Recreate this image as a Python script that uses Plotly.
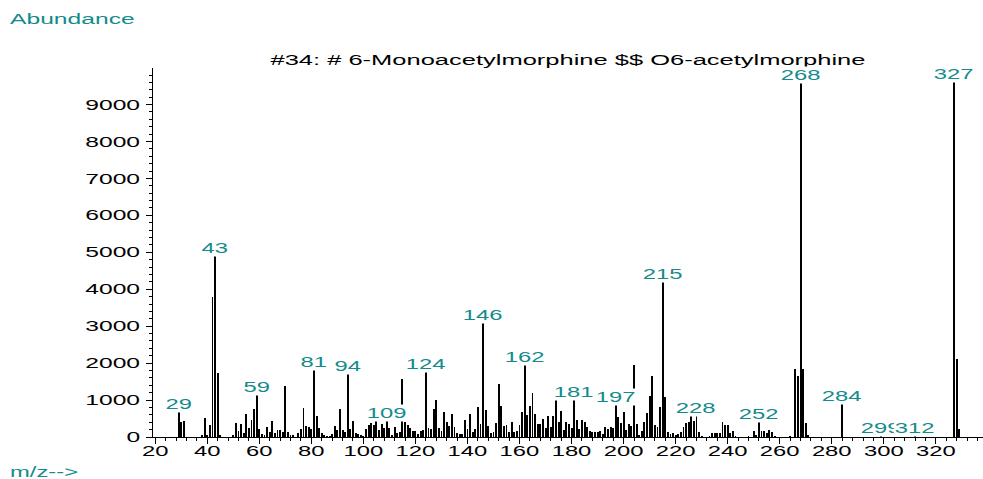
import plotly.graph_objects as go

# Mass spectrum of 6-monoacetylmorphine (EI), m/z vs abundance
mz = [29, 30, 31, 38, 39, 40, 41, 42, 43, 44, 45,
      50, 51, 52, 53, 54, 55, 56, 57, 58, 59, 60, 61, 62, 63, 64, 65, 66, 67, 68, 69,
      70, 71, 72, 73, 75, 76, 77, 78, 79, 80, 81, 82, 83, 84, 85, 86, 87, 88, 89,
      90, 91, 92, 93, 94, 95, 96, 97, 98, 99, 100, 101, 102, 103, 104, 105, 106, 107, 108, 109,
      110, 111, 112, 113, 114, 115, 116, 117, 118, 119, 120, 121, 122, 123, 124, 125, 126, 127, 128, 129,
      130, 131, 132, 133, 134, 135, 136, 137, 138, 139, 140, 141, 142, 143, 144, 145, 146, 147, 148, 149,
      150, 151, 152, 153, 154, 155, 156, 157, 158, 159, 160, 161, 162, 163, 164, 165, 166, 167, 168, 169,
      170, 171, 172, 173, 174, 175, 176, 177, 178, 179, 180, 181, 182, 183, 184, 185, 186, 187, 188, 189,
      190, 191, 192, 193, 194, 195, 196, 197, 198, 199, 200, 201, 202, 203, 204, 205, 206, 207, 208, 209,
      210, 211, 212, 213, 214, 215, 216, 217, 218, 219, 220, 221, 222, 223, 224, 225, 226, 227, 228, 229,
      230, 233, 234, 235, 236, 237, 238, 239, 240, 241, 242, 243, 248, 250, 251, 252, 253, 254, 255, 256,
      257, 258, 264, 266, 267, 268, 269, 270, 271, 284, 299, 312, 327, 328, 329]
abundance = [690, 400, 430, 30, 520, 55, 330, 3780, 4910, 1740, 55,
             55, 380, 150, 350, 120, 610, 250, 450, 750, 1140, 210, 70, 60, 270, 130, 440, 110, 200, 190, 140,
             1380, 140, 50, 30, 100, 230, 790, 290, 260, 220, 1820, 570, 240, 100, 60, 20, 20, 80, 300,
             185, 760, 180, 135, 1710, 210, 430, 110, 70, 50, 20, 210, 330, 380, 320, 430, 190, 350, 240, 430,
             240, 60, 260, 120, 140, 1570, 410, 330, 250, 170, 170, 90, 170, 190, 1760, 240, 210, 760, 1010, 240,
             170, 680, 400, 290, 610, 260, 110, 70, 70, 460, 210, 620, 140, 230, 800, 350, 3100, 730, 295, 100,
             130, 385, 1430, 840, 300, 325, 130, 400, 130, 165, 330, 687, 1950, 600, 845, 1185, 615, 355, 355, 500,
             240, 570, 280, 570, 1000, 400, 705, 185, 400, 355, 240, 1000, 460, 230, 460, 410, 262, 170, 122, 122,
             126, 160, 72, 265, 208, 265, 235, 867, 545, 380, 687, 190, 355, 298, 1950, 340, 60, 170, 415, 660,
             1110, 1653, 335, 262, 804, 4200, 1070, 126, 76, 99, 60, 72, 140, 262, 385, 415, 570, 425, 570, 136,
             27, 27, 99, 99, 99, 100, 410, 325, 325, 99, 175, 27, 27, 163, 54, 410, 163, 163, 99, 190,
             136, 27, 27, 1843, 1650, 9590, 1843, 385, 36, 890, 30, 30, 9610, 2110, 220]

# peaks that carry an m/z label
labelled = [29, 43, 59, 81, 94, 109, 124, 146, 162, 181, 197, 215, 228, 252, 268, 284, 299, 312, 327]

title_text = "#34: # 6-Monoacetylmorphine $$ O6-acetylmorphine"
x_tick_vals = list(range(20, 340, 20))
y_tick_vals = list(range(0, 10000, 1000))

TEAL = "#138b8b"
FONT = "Liberation Sans, Arial, sans-serif"

fig = go.Figure()
fig.add_trace(go.Bar(
    x=mz, y=abundance, width=0.35,
    marker=dict(color="black", line=dict(width=0)),
    hoverinfo="x+y",
))

peak = dict(zip(mz, abundance))
annotations = []
for m in labelled:
    annotations.append(dict(
        x=m, y=peak[m], xref="x", yref="y", text=str(m), showarrow=False,
        xanchor="center", yanchor="bottom", yshift=-1,
        font=dict(family=FONT, size=14, color=TEAL),
        bgcolor="white", borderpad=0,
    ))

annotations.append(dict(
    x=-0.175, y=1.133, xref="paper", yref="paper", text="Abundance",
    showarrow=False, xanchor="left", yanchor="middle", align="left",
    font=dict(family=FONT, size=14.5, color=TEAL),
))
annotations.append(dict(
    x=-0.175, y=-0.095, xref="paper", yref="paper", text="m/z-->",
    showarrow=False, xanchor="left", yanchor="middle", align="left",
    font=dict(family=FONT, size=14, color=TEAL),
))

fig.update_layout(
    width=983, height=479,
    margin=dict(l=153, r=0, t=68, b=42),
    paper_bgcolor="white", plot_bgcolor="white",
    showlegend=False,
    title=dict(text=title_text, x=0.5, xref="paper", xanchor="center",
               y=1 - 60 / 479, yref="container", yanchor="middle",
               font=dict(family=FONT, size=15, color="black")),
    annotations=annotations,
    bargap=0,
)

fig.update_xaxes(
    range=[19.15, 338.1],
    tickmode="array", tickvals=x_tick_vals,
    ticks="outside", ticklen=6, tickwidth=1, tickcolor="black",
    minor=dict(dtick=4, tick0=20, ticks="outside", ticklen=3, tickwidth=1, tickcolor="black"),
    showline=True, linecolor="black", linewidth=1,
    showgrid=False, zeroline=False,
    ticklabelstandoff=-5,
    tickfont=dict(family=FONT, size=14, color="black"),
)
fig.update_yaxes(
    range=[0, 9990],
    tickmode="array", tickvals=y_tick_vals, tickformat="d",
    ticks="outside", ticklen=6, tickwidth=1, tickcolor="black",
    minor=dict(dtick=200, tick0=0, ticks="outside", ticklen=3, tickwidth=1, tickcolor="black"),
    showline=True, linecolor="black", linewidth=1,
    showgrid=False, zeroline=False,
    ticklabelstandoff=3,
    tickfont=dict(family=FONT, size=14.5, color="black"),
)

# Widen every glyph run horizontally about its anchor (wide instrument-print lettering)
stretch_js = """
document.body.style.margin = '0';
var gd = document.getElementById('{plot_id}');
var S = 1.7;
gd.querySelectorAll('svg text').forEach(function (t) {
  if (!t.textContent) return;
  var b;
  try { b = t.getBBox(); } catch (e) { return; }
  if (!b.width) return;
  var a = t.getAttribute('text-anchor') || 'start';
  var cx = a === 'middle' ? b.x + b.width / 2 : (a === 'end' ? b.x + b.width : b.x);
  var st = ' translate(' + cx + ',0) scale(' + S + ',1) translate(' + (-cx) + ',0)';
  t.setAttribute('transform', (t.getAttribute('transform') || '') + st);
  var r = t.parentNode ? t.parentNode.querySelector(':scope > rect.bg') : null;
  if (r) r.setAttribute('transform', (r.getAttribute('transform') || '') + st);
});
"""

fig.write_html("out.html", config={"displayModeBar": False}, post_script=stretch_js)
